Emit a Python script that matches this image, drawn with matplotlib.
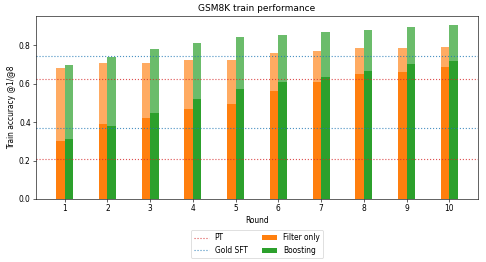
import matplotlib
matplotlib.use("Agg")
import matplotlib.pyplot as plt
import numpy as np

# Values
rounds = [1, 2, 3, 4, 5, 6, 7, 8, 9, 10]
filter_at1 = [0.302, 0.390, 0.424, 0.467, 0.495, 0.562, 0.609, 0.651, 0.663, 0.689]
filter_at8 = [0.680, 0.708, 0.707, 0.724, 0.726, 0.760, 0.769, 0.788, 0.785, 0.793]
boost_at1 = [0.314, 0.378, 0.448, 0.519, 0.573, 0.609, 0.634, 0.667, 0.701, 0.719]
boost_at8 = [0.700, 0.741, 0.781, 0.812, 0.842, 0.856, 0.868, 0.878, 0.894, 0.908]
pt_scores = [0.210, 0.625]
gold_sft_scores = [0.370, 0.743]

x = np.array(rounds)
width = 0.2
dpi = 54

fig, ax = plt.subplots(figsize=(486 / dpi, 262 / dpi), dpi=dpi)
fig.subplots_adjust(left=0.074, right=0.9835, top=0.939, bottom=0.2405)

# @8 bars (light) behind @1 bars (solid)
ax.bar(x - width / 2, filter_at8, width, color="C1", alpha=0.65)
ax.bar(x + width / 2, boost_at8, width, color="C2", alpha=0.7)
ax.bar(x - width / 2, filter_at1, width, color="C1", label="Filter only")
ax.bar(x + width / 2, boost_at1, width, color="C2", label="Boosting")

for i, v in enumerate(pt_scores):
    ax.axhline(v, color="C3", linestyle=":", alpha=0.8, label="PT" if i == 0 else None)
for i, v in enumerate(gold_sft_scores):
    ax.axhline(v, color="C0", linestyle=":", alpha=0.8, label="Gold SFT" if i == 0 else None)

ax.set_xticks(x)
ax.set_xlabel("Round")
ax.set_ylabel("Train accuracy @1/@8")
ax.set_title("GSM8K train performance")

handles, labels = ax.get_legend_handles_labels()
order = [labels.index(n) for n in ["PT", "Gold SFT", "Filter only", "Boosting"]]
ax.legend([handles[i] for i in order], [labels[i] for i in order],
          loc="upper center", bbox_to_anchor=(0.5, -0.15), ncol=2)

fig.savefig("out.png", dpi=dpi)
